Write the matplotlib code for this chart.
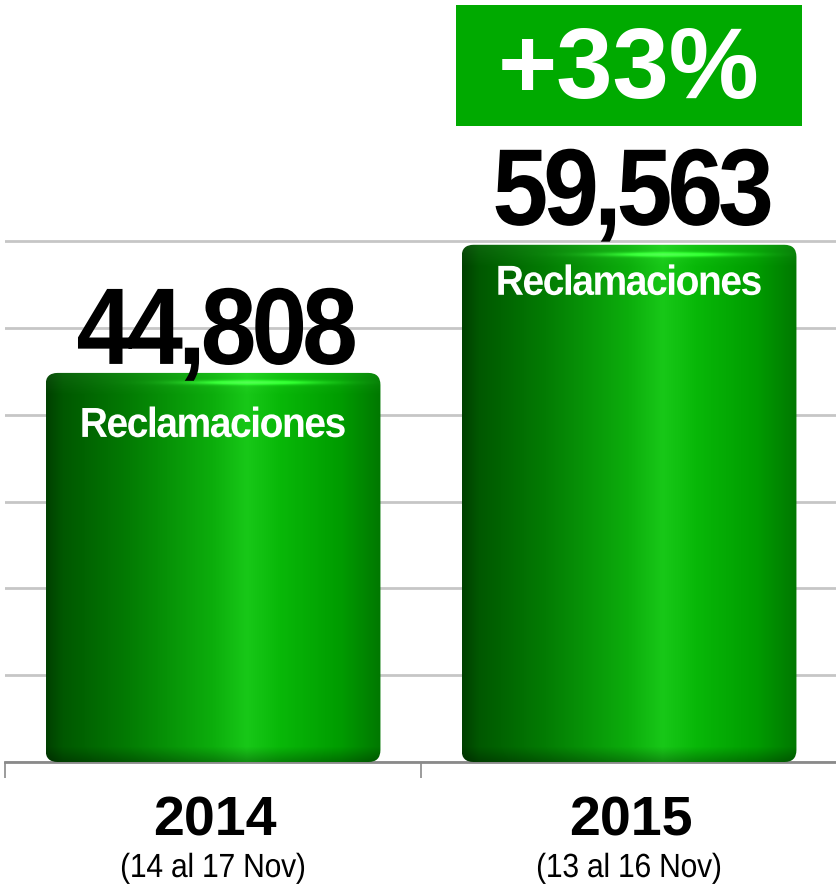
import numpy as np
import matplotlib
matplotlib.use("Agg")
import matplotlib.pyplot as plt
import matplotlib.transforms as mtransforms
from matplotlib.patches import FancyBboxPatch, PathPatch, Rectangle
from matplotlib.path import Path
from matplotlib.textpath import TextPath, TextToPath
from matplotlib.font_manager import FontProperties

# datos
years = ["2014", "2015"]
periods = ["(14 al 17 Nov)", "(13 al 16 Nov)"]
claims = [44808, 59563]
bar_text = "Reclamaciones"
growth = "+33%"

FONT = "Liberation Sans"
W, H, DPI = 837, 884, 100

fig = plt.figure(figsize=(W / DPI, H / DPI), dpi=DPI)
ax = fig.add_axes([5 / W, 122 / H, 832 / W, 762 / H])
ymax = 762 / (521 / 60000)
ax.set_xlim(-0.5, 1.5)
ax.set_ylim(0, ymax)

px_x = 2 / 832        # unidades de datos por pixel (x)
px_y = ymax / 762     # unidades de datos por pixel (y)
t2p = TextToPath()


def tracked(x, y, s, size, sx, track, color, weight="bold", dy=0, clip=True):
    # texto como path con espaciado ajustado (la fuente original va más apretada)
    fp = FontProperties(family=FONT, weight=weight, size=size)
    pen = 0
    parts = []
    for ch in s:
        w = t2p.get_text_width_height_descent(ch, fp, ismath=False)[0]
        if ch != " ":
            parts.append(TextPath((pen, 0), ch, size=size, prop=fp))
        pen += w + track
    total = pen - track
    path = Path.make_compound_path(*parts)
    tr = (mtransforms.Affine2D().translate(-total / 2, 0).scale(sx, 1)
          .translate(0, dy) + mtransforms.ScaledTranslation(x, y, ax.transData))
    p = PathPatch(path, transform=tr, facecolor=color, lw=0, zorder=6)
    p.set_clip_on(clip)
    ax.add_patch(p)


def bar_image(h, w):
    u = np.linspace(0, 1, w)
    stops = [0, 0.05, 0.25, 0.5, 0.6, 0.7, 0.88, 1.0]
    r = [0x00, 0x00, 0x03, 0x0c, 0x18, 0x08, 0x00, 0x00]
    g = [0x40, 0x58, 0x7c, 0xae, 0xc8, 0xb8, 0x9c, 0x78]
    row = np.stack([np.interp(u, stops, r), np.interp(u, stops, g),
                    np.interp(u, stops, r)], -1) / 255
    img = np.repeat(row[None], h, 0)
    v = np.arange(h)[:, None, None]
    dark = np.clip((v - (h - 16)) / 16, 0, 1)
    img = img * (1 - 0.3 * dark)
    top = np.clip(1 - v / 22, 0, 1)
    img = img + top * 0.05
    glow = (np.exp(-((np.arange(h) - 10) / 2.2) ** 2)[:, None]
            * np.exp(-((u - 0.62) / 0.2) ** 2)[None, :])
    img = img + glow[..., None] * np.array([0.2, 0.4, 0.2])
    return np.clip(img, 0, 1)


width = 0.805
radius = 12
for i, val in enumerate(claims):
    x0 = i - width / 2
    box = FancyBboxPatch((x0, 0), width, val,
                         boxstyle=f"round,pad=0,rounding_size={radius * px_x}",
                         mutation_aspect=px_y / px_x, facecolor="none",
                         edgecolor="none", zorder=3)
    ax.add_patch(box)
    h = int(round(val / px_y))
    im = ax.imshow(bar_image(h, 335), extent=(x0, x0 + width, 0, val),
                   aspect="auto", zorder=3, interpolation="bilinear")
    im.set_clip_path(box)

ax.set_xlim(-0.5, 1.5)
ax.set_ylim(0, ymax)

# etiquetas sobre y dentro de las barras
num_gap = [9, 20]
txt_drop = [64, 50]
for i, val in enumerate(claims):
    tracked(i + 0.01, val, f"{val:,}", 109, 0.92, -5.5, "black", dy=num_gap[i])
    tracked(i, val, bar_text, 42, 0.93, -1.6, "white", dy=-txt_drop[i])

# ejes y rejilla
ax.set_yticks(np.arange(0, 60001, 10000))
ax.yaxis.grid(True, color="#c6c6c6", lw=2)
ax.set_axisbelow(True)
ax.tick_params(axis="y", length=0, labelleft=False)
ax.set_xticks([-0.5, 0.5, 1.5])
ax.tick_params(axis="x", direction="out", length=11.5, width=1.2,
               color="#8a8a8a", labelbottom=False)
for s in ["left", "right", "top"]:
    ax.spines[s].set_visible(False)
ax.spines["bottom"].set_color("#8a8a8a")
ax.spines["bottom"].set_linewidth(2)

for i in range(len(years)):
    ax.text(i + 0.005, -73 * px_y, years[i], ha="center", va="baseline",
            fontsize=40, fontweight="bold", family=FONT, clip_on=False)
    tracked(i, 0, periods[i], 33.5, 0.9, -0.3, "black", weight="normal",
            dy=-115, clip=False)

# recuadro de crecimiento
fig.patches.append(Rectangle((456 / W, 1 - 126 / H), 346 / W, 121 / H,
                             transform=fig.transFigure, facecolor="#00aa00",
                             edgecolor="none", zorder=1))
fig.text(629 / W, 1 - 98 / H, growth, ha="center", va="baseline",
         fontsize=73, fontweight="bold", family=FONT, color="white", zorder=2)

fig.savefig("out.png", dpi=DPI, facecolor="white")
